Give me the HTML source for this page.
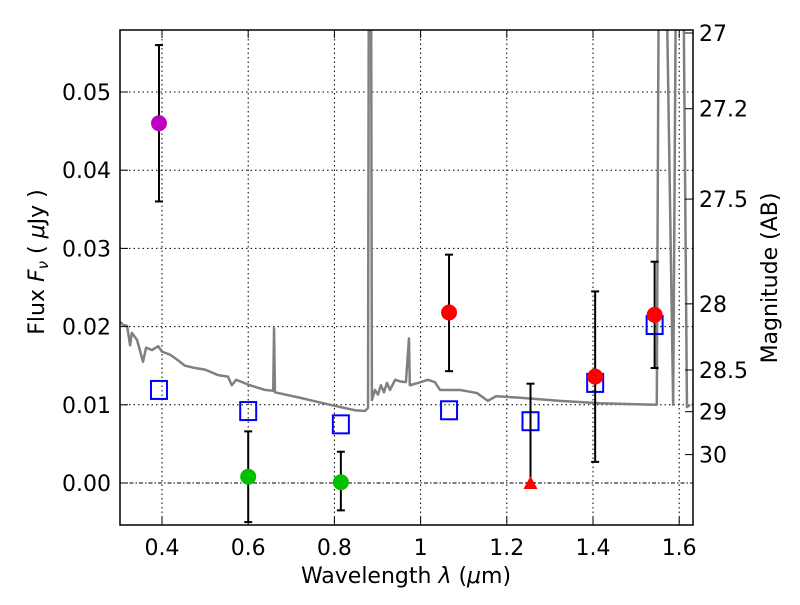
<!DOCTYPE html>
<html><head><meta charset="utf-8"><style>
body{margin:0;background:#fff}
svg text{font-family:"DejaVu Sans","Liberation Sans",sans-serif;fill:#000}
</style></head><body>
<svg id="c" width="800" height="600" viewBox="0 0 800 600" xmlns="http://www.w3.org/2000/svg">
<defs><clipPath id="clip"><rect x="120" y="30" width="573" height="495"/></clipPath></defs>
<rect x="0" y="0" width="800" height="600" fill="#fff"/>
<g id="grid"></g>
<g id="spec" clip-path="url(#clip)"></g>
<g id="marks"></g>
<g id="axes"></g>
<text x="406" y="583" font-size="22" text-anchor="middle">Wavelength  <tspan font-style="italic">λ</tspan> (<tspan font-style="italic">μ</tspan>m)</text>
<text transform="translate(44,262) rotate(-90)" font-size="22" text-anchor="middle">Flux  <tspan font-style="italic">F</tspan><tspan font-style="italic" font-size="15" dy="4">ν</tspan><tspan dy="-4">  ( </tspan><tspan font-style="italic">μ</tspan>Jy )</text>
<text transform="translate(777,278) rotate(-90)" font-size="22" text-anchor="middle">Magnitude (AB)</text>
</svg>
<script>
const xTicks=[0.4,0.6,0.8,1.0,1.2,1.4,1.6];
const xTickLabels=["0.4","0.6","0.8","1","1.2","1.4","1.6"];
const yTicks=[0,0.01,0.02,0.03,0.04,0.05];
const yTickLabels=["0.00","0.01","0.02","0.03","0.04","0.05"];
const magTicks=[27,27.2,27.5,28,28.5,29,30];
const magTickLabels=["27","27.2","27.5","28","28.5","29","30"];
const specX=[0.303,0.31,0.319,0.326,0.330,0.342,0.356,0.363,0.377,0.391,0.4,0.419,0.437,0.453,0.477,0.5,0.53,0.553,0.562,0.572,0.604,0.639,0.658,0.660,0.662,0.72,0.79,0.848,0.871,0.878,0.880,0.885,0.887,0.894,0.901,0.908,0.915,0.922,0.929,0.941,0.952,0.966,0.973,0.975,0.994,1.017,1.033,1.045,1.091,1.131,1.156,1.175,1.231,1.323,1.416,1.548,1.553,1.569,1.586,1.593,1.609,1.618,1.625];
const specY=[0.0206,0.0202,0.0201,0.0176,0.0192,0.0183,0.0155,0.0173,0.0170,0.0175,0.0168,0.0164,0.0157,0.0150,0.0147,0.0145,0.0138,0.0136,0.0125,0.0132,0.0125,0.0119,0.0118,0.0198,0.0116,0.0109,0.0100,0.0093,0.0092,0.0096,0.07,0.07,0.0106,0.0119,0.0113,0.0125,0.0116,0.0128,0.0119,0.0132,0.0130,0.0129,0.0185,0.0125,0.0128,0.0132,0.0129,0.0119,0.0119,0.0115,0.0105,0.0111,0.0109,0.0105,0.0102,0.0100,0.07,0.07,0.0100,0.07,0.07,0.0097,0.0100];
const obsX=[0.393,0.60,0.815,1.066,1.405,1.543];
const obsY=[0.046,0.0008,0.0001,0.0218,0.0136,0.0215];
const obsLo=[0.036,-0.005,-0.0035,0.0143,0.0027,0.0147];
const obsHi=[0.056,0.0066,0.004,0.0292,0.0245,0.0283];
const obsColor=["#bf00bf","#00c000","#00c000","#ff0000","#ff0000","#ff0000"];
const limX=[1.255];
const limY=[0];
const limHi=[0.0127];
const modelX=[0.393,0.60,0.815,1.066,1.255,1.405,1.543];
const modelY=[0.0119,0.0092,0.0075,0.0093,0.0079,0.0128,0.0202];

const NS="http://www.w3.org/2000/svg";
const X=v=>162+(v-0.4)*431;
const Y=v=>483-v*7820;
const M=m=>Y(Math.pow(10,(23.9-m)/2.5));
function mk(p,tag,a){const e=document.createElementNS(NS,tag);for(const k in a)e.setAttribute(k,a[k]);p.appendChild(e);return e;}
const grid=document.getElementById('grid'),spec=document.getElementById('spec'),marks=document.getElementById('marks'),axes=document.getElementById('axes');
xTicks.forEach((t,i)=>{
  const l=mk(grid,'line',{x1:X(t),x2:X(t),y1:30,y2:525,stroke:'#000','stroke-width':1,'stroke-dasharray':'1.5,3'});
  
  
  mk(axes,'line',{x1:X(t),x2:X(t),y1:525,y2:517,stroke:'#000'});
  mk(axes,'line',{x1:X(t),x2:X(t),y1:30,y2:38,stroke:'#000'});
  const tx=mk(axes,'text',{x:X(t),y:555,'font-size':22,'text-anchor':'middle'});
  
  
  tx.textContent=xTickLabels[i];
});
yTicks.forEach((t,i)=>{
  const l=mk(grid,'line',{x1:120,x2:693,y1:Y(t),y2:Y(t),stroke:'#000','stroke-width':1,'stroke-dasharray':t===0?'4,2,1.5,2':'1.5,3'});
  
  
  mk(axes,'line',{x1:120,x2:128,y1:Y(t),y2:Y(t),stroke:'#000'});
  const tx=mk(axes,'text',{x:111,y:Y(t)+8,'font-size':22,'text-anchor':'end'});
  
  
  tx.textContent=yTickLabels[i];
});
magTicks.forEach((m,i)=>{
  mk(axes,'line',{x1:693,x2:685,y1:M(m),y2:M(m),stroke:'#000'});
  const tx=mk(axes,'text',{x:699,y:M(m)+8,'font-size':22});
  
  
  tx.textContent=magTickLabels[i];
});
const pl=mk(spec,'polyline',{points:specX.map((x,i)=>X(x)+','+Y(specY[i])).join(' '),fill:'none',stroke:'#808080','stroke-width':2.5,'stroke-linejoin':'round'});


function err(x,lo,hi){mk(marks,'line',{x1:X(x),x2:X(x),y1:Y(lo),y2:Y(hi),stroke:'#000','stroke-width':2});
  mk(marks,'line',{x1:X(x)-4,x2:X(x)+4,y1:Y(lo),y2:Y(lo),stroke:'#000','stroke-width':2});
  mk(marks,'line',{x1:X(x)-4,x2:X(x)+4,y1:Y(hi),y2:Y(hi),stroke:'#000','stroke-width':2});}
modelX.forEach((x,i)=>{
  const r=mk(marks,'rect',{x:X(x)-8,y:Y(modelY[i])-9,width:16,height:18,fill:'none',stroke:'#0000ff','stroke-width':2});
  
  
});
obsX.forEach((x,i)=>{
  err(x,obsLo[i],obsHi[i]);
  const c=mk(marks,'circle',{cx:X(x),cy:Y(obsY[i]),r:8,fill:obsColor[i]});
  
  
});
limX.forEach((x,i)=>{
  err(x,limY[i],limHi[i]);
  const px=X(x),py=Y(limY[i]);
  const t=mk(marks,'polygon',{points:`${px-7},${py+6} ${px+7},${py+6} ${px},${py-7}`,fill:'#ff0000'});
  
  
});
const fr=mk(axes,'rect',{x:120,y:30,width:573,height:495,fill:'none',stroke:'#000','stroke-width':1.5});


</script>
</body></html>
